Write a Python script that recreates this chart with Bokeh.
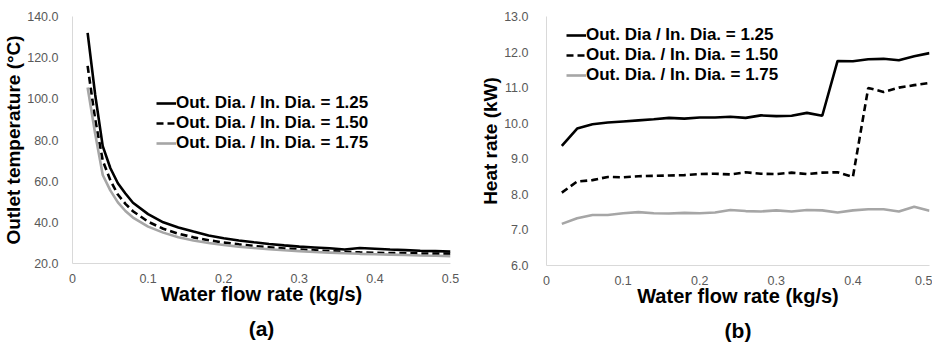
from bokeh.plotting import figure
from bokeh.layouts import row
from bokeh.models import Legend, LegendItem, Title, FixedTicker, CustomJSTickFormatter, Range1d
from bokeh.embed import file_html
from bokeh.resources import INLINE

# (a) outlet temperature
flow_a = [0.02, 0.03, 0.04, 0.05, 0.06, 0.07, 0.08, 0.10, 0.12, 0.14, 0.16, 0.18, 0.20, 0.22, 0.24, 0.26,
          0.28, 0.30, 0.32, 0.34, 0.36, 0.38, 0.40, 0.42, 0.44, 0.46, 0.48, 0.50]
temp_125 = [132.0, 102.0, 77.0, 66.4, 59.0, 54.0, 49.5, 44.0, 40.0, 37.5, 35.5, 33.6, 32.3, 31.2, 30.3, 29.5,
            28.8, 28.2, 27.8, 27.4, 26.8, 27.5, 27.2, 26.8, 26.5, 26.2, 26.0, 25.8]
temp_150 = [116.0, 90.0, 70.0, 60.5, 53.5, 49.0, 45.4, 40.3, 36.9, 34.5, 32.7, 31.3, 30.2, 29.3, 28.5, 27.9,
            27.3, 26.8, 26.4, 26.0, 25.7, 25.4, 25.2, 25.1, 25.0, 24.9, 24.8, 24.8]
temp_175 = [105.5, 83.0, 63.0, 55.5, 49.7, 45.5, 42.3, 37.9, 35.0, 32.8, 31.2, 30.0, 29.0, 28.2, 27.5, 26.9,
            26.4, 26.0, 25.6, 25.3, 25.0, 24.7, 24.5, 24.3, 24.1, 23.9, 23.8, 23.6]

# (b) heat rate
flow_b = [0.02, 0.04, 0.06, 0.08, 0.10, 0.12, 0.14, 0.16, 0.18, 0.20, 0.22, 0.24, 0.26,
          0.28, 0.30, 0.32, 0.34, 0.36, 0.38, 0.40, 0.42, 0.44, 0.46, 0.48, 0.50]
heat_125 = [9.36, 9.85, 9.97, 10.02, 10.05, 10.08, 10.11, 10.15, 10.13, 10.16, 10.16, 10.18, 10.15,
            10.22, 10.20, 10.21, 10.29, 10.21, 11.75, 11.74, 11.80, 11.81, 11.77, 11.88, 11.97]
heat_150 = [8.05, 8.36, 8.40, 8.49, 8.48, 8.51, 8.52, 8.53, 8.54, 8.57, 8.58, 8.56, 8.62,
            8.58, 8.57, 8.61, 8.57, 8.61, 8.62, 8.49, 10.99, 10.88, 11.00, 11.07, 11.13]
heat_175 = [7.17, 7.33, 7.42, 7.42, 7.47, 7.50, 7.47, 7.46, 7.48, 7.47, 7.49, 7.56, 7.53,
            7.52, 7.55, 7.52, 7.56, 7.55, 7.49, 7.55, 7.58, 7.58, 7.52, 7.65, 7.54]

x_ticks = [0, 0.1, 0.2, 0.3, 0.4, 0.5]
temp_ticks = [20, 40, 60, 80, 100, 120, 140]
heat_ticks = [6, 7, 8, 9, 10, 11, 12, 13]

labels_a = ["Out. Dia. / In. Dia. = 1.25", "Out. Dia. / In. Dia. = 1.50", "Out. Dia. / In. Dia. = 1.75"]
labels_b = ["Out. Dia / In. Dia. = 1.25", "Out. Dia. / In. Dia. = 1.50", "Out. Dia. / In. Dia. = 1.75"]

FONT = "Liberation Sans"
AXIS_COLOR = "#d9d9d9"
TICK_COLOR = "#595959"


def style(p, yticks, ylabel, title, y_tick_standoff, y_label_standoff):
    p.xaxis.ticker = FixedTicker(ticks=x_ticks)
    p.yaxis.ticker = FixedTicker(ticks=yticks)
    p.xaxis.formatter = CustomJSTickFormatter(code="return tick == 0 ? '0' : tick.toFixed(1);")
    p.yaxis.formatter = CustomJSTickFormatter(code="return tick.toFixed(1);")
    for ax in (p.xaxis[0], p.yaxis[0]):
        ax.axis_line_color = AXIS_COLOR
        ax.axis_line_width = 1
        ax.major_tick_line_color = None
        ax.minor_tick_line_color = None
        ax.major_label_text_font = FONT
        ax.major_label_text_font_size = "12.5px"
        ax.major_label_text_color = TICK_COLOR
        ax.axis_label_text_font = FONT
        ax.axis_label_text_font_style = "bold"
        ax.axis_label_text_color = "black"
    p.xaxis.axis_label_text_font_size = "20px"
    p.yaxis.axis_label_text_font_size = "19px"
    p.xaxis.major_label_standoff = 4
    p.yaxis.major_label_standoff = y_tick_standoff
    p.xaxis.axis_label = "Water flow rate (kg/s)"
    p.yaxis.axis_label = ylabel
    p.xaxis.axis_label_standoff = -3
    p.yaxis.axis_label_standoff = y_label_standoff
    p.xgrid.grid_line_color = None
    p.ygrid.grid_line_color = None
    p.outline_line_color = None
    p.add_layout(Title(text=title, align="center", text_font=FONT, text_font_size="21px",
                       text_font_style="bold", text_color="black", standoff=14, offset=0), "below")


def add_lines(p, xs, ys, labels, loc):
    r1 = p.line(xs, ys[0], line_color="black", line_width=2.6)
    r2 = p.line(xs, ys[1], line_color="black", line_width=2.6, line_dash="7 4")
    r3 = p.line(xs, ys[2], line_color="#a6a6a6", line_width=2.6)
    leg = Legend(items=[LegendItem(label=labels[0], renderers=[r1]),
                        LegendItem(label=labels[1], renderers=[r2]),
                        LegendItem(label=labels[2], renderers=[r3])],
                 location=loc, background_fill_alpha=0, border_line_color=None,
                 label_text_font=FONT, label_text_font_style="bold", label_text_font_size="17px",
                 label_text_color="black", glyph_width=20, glyph_height=16, label_height=16,
                 label_standoff=0, spacing=0, padding=0, margin=0)
    p.add_layout(leg, "center")


pa = figure(frame_width=378, frame_height=247, min_border_left=65, min_border_right=20,
            min_border_top=16, min_border_bottom=0, output_backend="svg", toolbar_location=None,
            x_range=Range1d(0, 0.5), y_range=Range1d(20, 140))
style(pa, temp_ticks, "Outlet temperature (°C)", "(a)", 8, 0)
add_lines(pa, flow_a, [temp_125, temp_150, temp_175], labels_a, (84, 110))

pb = figure(frame_width=383, frame_height=249, min_border_left=76, min_border_right=3,
            min_border_top=16, min_border_bottom=0, output_backend="svg", toolbar_location=None,
            x_range=Range1d(0, 0.5), y_range=Range1d(6, 13))
style(pb, heat_ticks, "Heat rate (kW)", "(b)", 12, 0)
add_lines(pb, flow_b, [heat_125, heat_150, heat_175], labels_b, (20, 180))

layout = row(pa, pb, spacing=0)
open("out.html", "w").write(file_html(layout, INLINE))
